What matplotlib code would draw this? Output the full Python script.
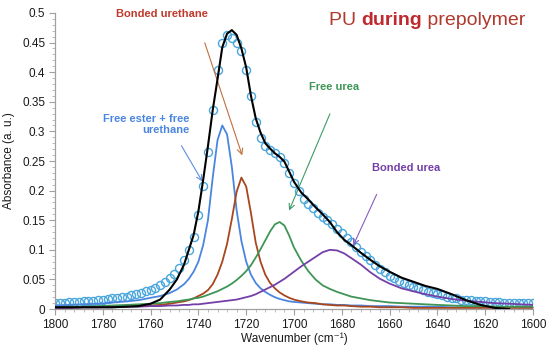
import numpy as np
import matplotlib
matplotlib.use('Agg')
import matplotlib.pyplot as plt

# wavenumber grid shared by the fit line and the component bands
wn_grid = [1800, 1794, 1788, 1782, 1776, 1770, 1765, 1760, 1756, 1752,
           1749, 1746, 1744, 1742, 1740, 1738, 1736, 1734, 1732, 1730,
           1728, 1726, 1724, 1722, 1720, 1718, 1716, 1714, 1712, 1710,
           1708, 1706, 1704, 1702, 1700, 1697, 1694, 1691, 1688, 1685,
           1682, 1679, 1676, 1672, 1668, 1664, 1660, 1655, 1650, 1645,
           1640, 1634, 1628, 1622, 1616, 1610, 1605, 1600]

free_ester = [0.006, 0.007, 0.008, 0.009, 0.011, 0.013, 0.015, 0.019, 0.022, 0.027,
              0.033, 0.042, 0.051, 0.063, 0.080, 0.108, 0.150, 0.222, 0.285, 0.310,
              0.295, 0.240, 0.167, 0.115, 0.080, 0.058, 0.044, 0.035, 0.029, 0.024,
              0.020, 0.017, 0.015, 0.013, 0.012, 0.011, 0.010, 0.009, 0.008, 0.008,
              0.007, 0.007, 0.006, 0.006, 0.005, 0.005, 0.005, 0.004, 0.004, 0.004,
              0.004, 0.003, 0.003, 0.003, 0.003, 0.003, 0.003, 0.003]

bonded_urethane = [0.002, 0.002, 0.003, 0.003, 0.004, 0.004, 0.005, 0.006, 0.007, 0.009,
                   0.011, 0.013, 0.015, 0.018, 0.022, 0.026, 0.032, 0.042, 0.058, 0.080,
                   0.110, 0.152, 0.198, 0.222, 0.207, 0.162, 0.112, 0.080, 0.058, 0.044,
                   0.035, 0.028, 0.023, 0.019, 0.016, 0.013, 0.011, 0.010, 0.008, 0.007,
                   0.006, 0.006, 0.005, 0.004, 0.004, 0.003, 0.003, 0.003, 0.002, 0.002,
                   0.002, 0.002, 0.002, 0.002, 0.002, 0.002, 0.002, 0.002]

free_urea = [0.003, 0.004, 0.004, 0.005, 0.006, 0.007, 0.008, 0.009, 0.010, 0.012,
             0.013, 0.015, 0.016, 0.018, 0.019, 0.021, 0.024, 0.027, 0.030, 0.034,
             0.038, 0.043, 0.049, 0.056, 0.064, 0.074, 0.087, 0.101, 0.116, 0.131,
             0.143, 0.147, 0.141, 0.124, 0.104, 0.082, 0.064, 0.050, 0.040, 0.034,
             0.029, 0.025, 0.021, 0.018, 0.015, 0.013, 0.011, 0.010, 0.009, 0.008,
             0.007, 0.006, 0.005, 0.005, 0.004, 0.004, 0.004, 0.004]

bonded_urea = [0.002, 0.002, 0.003, 0.003, 0.003, 0.004, 0.004, 0.005, 0.005, 0.006,
               0.006, 0.007, 0.007, 0.008, 0.008, 0.009, 0.010, 0.011, 0.012, 0.013,
               0.014, 0.015, 0.016, 0.018, 0.020, 0.022, 0.025, 0.029, 0.033, 0.037,
               0.041, 0.046, 0.051, 0.057, 0.063, 0.072, 0.080, 0.088, 0.096, 0.100,
               0.099, 0.094, 0.086, 0.075, 0.062, 0.051, 0.043, 0.035, 0.030, 0.025,
               0.021, 0.017, 0.014, 0.012, 0.010, 0.009, 0.008, 0.007]

# fitted envelope (black), stops where it reaches zero
fit_wn = wn_grid[:56]
fit_line = [0.003, 0.003, 0.003, 0.003, 0.003, 0.004, 0.005, 0.009, 0.016, 0.033,
            0.050, 0.075, 0.100, 0.125, 0.165, 0.218, 0.275, 0.336, 0.388, 0.442,
            0.465, 0.471, 0.463, 0.440, 0.408, 0.360, 0.322, 0.298, 0.280, 0.271,
            0.263, 0.257, 0.249, 0.232, 0.215, 0.197, 0.185, 0.172, 0.160, 0.147,
            0.130, 0.117, 0.108, 0.095, 0.083, 0.072, 0.063, 0.053, 0.046, 0.039,
            0.034, 0.025, 0.015, 0.007, 0.002, 0.000]

# measured spectrum, one point every 2 cm-1 from 1800 to 1600
meas_wn = list(range(1800, 1599, -2))
measured = [0.010, 0.0105, 0.011, 0.0115, 0.012, 0.0125, 0.013, 0.0135, 0.014, 0.015,
            0.016, 0.017, 0.018, 0.019, 0.020, 0.021, 0.023, 0.025, 0.027, 0.030,
            0.033, 0.036, 0.040, 0.045, 0.052, 0.060, 0.070, 0.082, 0.099, 0.122,
            0.158, 0.208, 0.266, 0.336, 0.404, 0.450, 0.462, 0.458, 0.449, 0.435,
            0.404, 0.359, 0.316, 0.289, 0.276, 0.268, 0.263, 0.256, 0.247, 0.230,
            0.213, 0.200, 0.186, 0.177, 0.170, 0.163, 0.156, 0.150, 0.144, 0.136,
            0.128, 0.120, 0.113, 0.105, 0.097, 0.090, 0.082, 0.075, 0.068, 0.062,
            0.056, 0.052, 0.048, 0.044, 0.041, 0.038, 0.035, 0.032, 0.029, 0.027,
            0.025, 0.023, 0.021, 0.019, 0.018, 0.016, 0.0155, 0.015, 0.014, 0.0135,
            0.013, 0.012, 0.012, 0.0115, 0.011, 0.011, 0.0105, 0.0105, 0.010, 0.010,
            0.010]

x_ticks = [1800, 1780, 1760, 1740, 1720, 1700, 1680, 1660, 1640, 1620, 1600]
y_ticks = [0, 0.05, 0.1, 0.15, 0.2, 0.25, 0.3, 0.35, 0.4, 0.45, 0.5]
y_tick_labels = ['0', '0.05', '0.1', '0.15', '0.2', '0.25', '0.3', '0.35', '0.4', '0.45', '0.5']

plt.rcParams['font.family'] = ['Liberation Sans', 'DejaVu Sans']

fig = plt.figure(figsize=(5.5, 3.5), dpi=100)
ax = fig.add_axes([0.1, 0.117, 0.869, 0.846])

# 측정 데이터 (open circles)
ax.plot(meas_wn, measured, linestyle='none', marker='o', markersize=5.8,
        markerfacecolor='none', markeredgecolor='#4aa6dc', markeredgewidth=1.0, zorder=2)

ax.plot(wn_grid, free_ester, color='#4a86e0', lw=1.3, zorder=3)
ax.plot(wn_grid, bonded_urethane, color='#a8461e', lw=1.3, zorder=3)
ax.plot(wn_grid, free_urea, color='#3f9556', lw=1.3, zorder=3)
ax.plot(wn_grid, bonded_urea, color='#7440a8', lw=1.3, zorder=3)
ax.plot(fit_wn, fit_line, color='black', lw=1.5, zorder=4)

ax.set_xlim(1800, 1600)
ax.set_ylim(0, 0.5)
ax.set_xticks(x_ticks)
ax.set_xticklabels([str(t) for t in x_ticks])
ax.set_yticks(y_ticks)
ax.set_yticklabels(y_tick_labels)
ax.set_xticks(np.arange(1800, 1599, -4), minor=True)
ax.set_yticks(np.arange(0, 0.501, 0.01), minor=True)

for side in ['top', 'right']:
    ax.spines[side].set_visible(False)
for side in ['left', 'bottom']:
    ax.spines[side].set_color('#a0a0a0')
    ax.spines[side].set_linewidth(0.9)
ax.tick_params(which='major', direction='out', length=4, color='#a0a0a0',
               labelsize=8.5, labelcolor='#1a1a1a', pad=3)
ax.tick_params(which='minor', direction='out', length=2.5, color='#b0b0b0')

ax.set_xlabel('Wavenumber (cm\u207b\u00b9)', fontsize=8.5, color='#1a1a1a', labelpad=1)
ax.set_ylabel('Absorbance (a. u.)', fontsize=8.5, color='#1a1a1a', labelpad=5)

# labels with arrows
ax.text(1755.2, 0.498, 'Bonded urethane', color='#c0392b', fontsize=8, fontweight='bold',
        ha='center', va='center')
ax.annotate('', xy=(1721.3, 0.255), xytext=(1737.7, 0.454),
            arrowprops=dict(arrowstyle='->', color='#c0703f', lw=0.8))

ax.text(1743.9, 0.311, 'Free ester + free\nurethane', color='#4a86e0', fontsize=8,
        fontweight='bold', ha='right', va='center', multialignment='right', linespacing=1.1)
ax.annotate('', xy=(1737.7, 0.211), xytext=(1747.7, 0.280),
            arrowprops=dict(arrowstyle='->', color='#5b8ee0', lw=0.8))

ax.text(1683.3, 0.375, 'Free urea', color='#3f9556', fontsize=8, fontweight='bold',
        ha='center', va='center')
ax.annotate('', xy=(1702.5, 0.162), xytext=(1684.5, 0.334),
            arrowprops=dict(arrowstyle='->', color='#3f9a6a', lw=0.8))

ax.text(1653.1, 0.238, 'Bonded urea', color='#7440a8', fontsize=8, fontweight='bold',
        ha='center', va='center')
ax.annotate('', xy=(1675.7, 0.103), xytext=(1664.9, 0.198),
            arrowprops=dict(arrowstyle='->', color='#8a5cc0', lw=0.8))

# title in three pieces, middle word bold
t1 = ax.text(1685.4, 0.488, 'PU ', color='#b0392e', fontsize=14, ha='left', va='center')
t2 = ax.annotate('during', xy=(1, 0), xycoords=t1, ha='left', va='bottom',
                 color='#c0282d', fontsize=14, fontweight='bold')
ax.annotate(' prepolymer', xy=(1, 0), xycoords=t2, ha='left', va='bottom',
            color='#b0392e', fontsize=14)

fig.savefig('out.png', dpi=100)
